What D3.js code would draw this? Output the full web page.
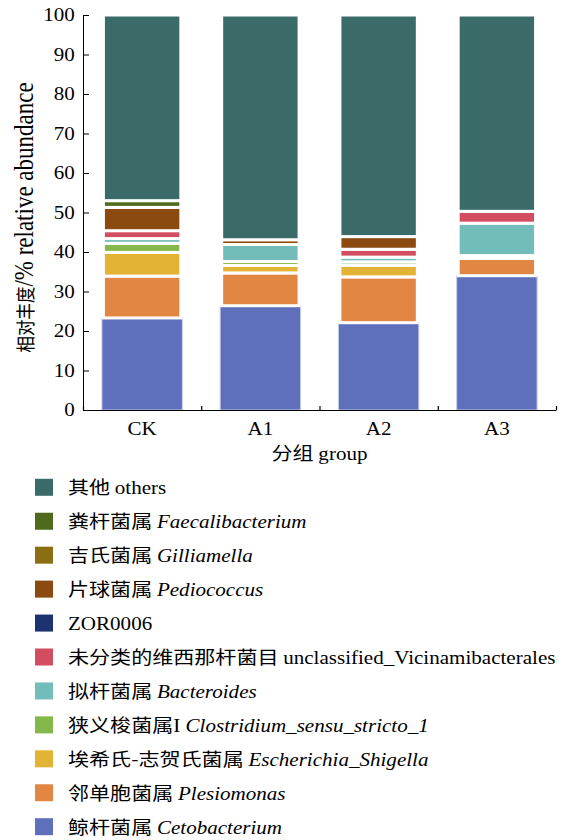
<!DOCTYPE html>
<html>
<head>
<meta charset="utf-8">
<script src="https://cdn.jsdelivr.net/npm/d3@7"></script>
<style>
  body { margin: 0; background: #fff; }
  svg { display: block; }
  .lat { font-family: "Liberation Serif", "Times New Roman", serif; }
  .cjk { font-family: "Noto Sans CJK SC", sans-serif; }
</style>
</head>
<body>
<div id="chart"></div>
<script>

// groups on the x axis
const groups = ['CK', 'A1', 'A2', 'A3'];

// genera, stacked bottom -> top
const series = ['Cetobacterium', 'Plesiomonas', 'Escherichia', 'Clostridium', 'Bacteroides',
    'Vicinamibacterales', 'ZOR0006', 'Pediococcus', 'Gilliamella', 'Faecalibacterium', 'others'];

// relative abundance (%) per group
const cetobacterium      = [23.3, 26.4, 22.1, 34.0];
const plesiomonas        = [10.6,  8.3, 11.6,  4.4];
const escherichia        = [ 6.0,  1.9,  2.9,  0.7];
const clostridium        = [ 2.3,  1.0,  0.9,  0.0];
const bacteroides        = [ 1.2,  4.3,  1.2,  8.2];
const vicinamibacterales = [ 2.0,  0.0,  2.0,  3.0];
const zor0006            = [ 0.0,  0.0,  0.0,  0.0];
const pediococcus        = [ 5.9,  1.2,  3.2,  0.0];
const gilliamella        = [ 0.0,  0.0,  0.0,  0.0];
const faecalibacterium   = [ 1.7,  0.0,  0.0,  0.0];
const others             = [47.0, 56.9, 56.1, 49.7];

const colors = ['#5e70bb', '#e28743', '#e3b335', '#85b84a', '#72bcb9',
    '#d24d5f', '#1c3370', '#8a4a10', '#8b6d14', '#4e6a1a', '#3b6b68'];

// legend texts, same order as series
const legendCn = ['鲸杆菌属', '邻单胞菌属', '埃希氏-志贺氏菌属', '狭义梭菌属', '拟杆菌属',
    '未分类的维西那杆菌目', '', '片球菌属', '吉氏菌属', '粪杆菌属', '其他'];
const legendLatin = ['Cetobacterium', 'Plesiomonas', 'Escherichia_Shigella', 'Clostridium_sensu_stricto_1', 'Bacteroides',
    'unclassified_Vicinamibacterales', 'ZOR0006', 'Pediococcus', 'Gilliamella', 'Faecalibacterium', 'others'];
const legendItalic = [true, true, true, true, true, false, false, true, true, true, false];

const yTicks = [0, 10, 20, 30, 40, 50, 60, 70, 80, 90, 100];

const columns = [cetobacterium, plesiomonas, escherichia, clostridium, bacteroides,
    vicinamibacterales, zor0006, pediococcus, gilliamella, faecalibacterium, others];

const table = groups.map(function (g, i) {
    const row = { group: g };
    series.forEach(function (s, j) { row[s] = columns[j][i]; });
    return row;
});

const W = 565, H = 840;
const margin = { top: 15, left: 83, right: 9 };
const plotBottom = 410;
const stretch = 'scale(1.17,1)';

const svg = d3.select('#chart').append('svg')
    .attr('width', W)
    .attr('height', H);

const x = d3.scaleBand()
    .domain(groups)
    .range([margin.left, W - margin.right])
    .paddingInner(0.32)
    .paddingOuter(0.16);

const y = d3.scaleLinear()
    .domain([0, 100])
    .range([plotBottom, margin.top]);

const stacked = d3.stack().keys(series)(table);
const bw = x.bandwidth();

// bars
const layer = svg.append('g').selectAll('g')
    .data(stacked)
    .join('g')
    .attr('fill', function (d, i) { return colors[i]; });

layer.selectAll('rect')
    .data(function (d) { return d.map(function (v) { v.li = d.index; return v; }).filter(function (v) { return v[1] - v[0] > 0; }); })
    .join('rect')
    .attr('x', function (d) { return x(d.data.group) + (d.li === 0 ? 0 : 1.5); })
    .attr('width', function (d) { return d.li === 0 ? bw : bw - 3; })
    .attr('y', function (d) { return y(d[1]); })
    .attr('height', function (d) { return y(d[0]) - y(d[1]); })
    .attr('stroke', function (d) { return d.li === 0 ? '#c6cbe8' : '#fff'; })
    .attr('stroke-width', function (d) { return d.li === 0 ? 1 : 3; });

// y axis
const yAxis = svg.append('g')
    .attr('transform', 'translate(' + margin.left + ',0)')
    .call(d3.axisLeft(y).tickValues(yTicks).tickSizeInner(-6).tickSizeOuter(0).tickPadding(7));
yAxis.select('.domain').attr('stroke', '#000');
yAxis.selectAll('.tick line').attr('stroke', '#000');
yAxis.selectAll('text')
    .attr('class', 'lat')
    .attr('transform', stretch)
    .style('font-size', '18px')
    .attr('fill', '#000');

// x axis line with ticks between groups
const xLine = d3.scaleLinear().domain([0, groups.length]).range(x.range());
const xAxis = svg.append('g')
    .attr('transform', 'translate(0,' + plotBottom + ')')
    .call(d3.axisBottom(xLine).ticks(groups.length).tickSizeInner(-4).tickSizeOuter(0).tickFormat(''));
xAxis.select('.domain').attr('stroke', '#000').attr('stroke-width', 1.2);
xAxis.selectAll('.tick line').attr('stroke', '#000').attr('stroke-width', 1.2);

// group labels
const xLabels = svg.append('g')
    .attr('transform', 'translate(0,' + plotBottom + ')')
    .call(d3.axisBottom(x).tickSize(0).tickPadding(12));
xLabels.select('.domain').remove();
xLabels.selectAll('text')
    .attr('class', 'lat')
    .attr('transform', stretch)
    .style('font-size', '18px')
    .attr('fill', '#000');

// axis titles
const xTitle = svg.append('text')
    .attr('transform', 'translate(' + ((x.range()[0] + x.range()[1]) / 2) + ',460) ' + stretch)
    .attr('text-anchor', 'middle')
    .style('font-size', '18px');
xTitle.append('tspan').attr('class', 'cjk').text('分组 ');
xTitle.append('tspan').attr('class', 'lat').text('group');

const yTitle = svg.append('text')
    .attr('transform', 'translate(33,217.5) rotate(-90) scale(1,1.2)')
    .attr('text-anchor', 'middle');
yTitle.append('tspan').attr('class', 'cjk').style('font-size', '16.5px').text('相对丰度');
yTitle.append('tspan').attr('class', 'lat').style('font-size', '23px').text('/% relative abundance');

// legend, top row = top of the stack
const legendOrder = d3.range(series.length).reverse();
const legend = svg.append('g').selectAll('g')
    .data(legendOrder)
    .join('g')
    .attr('transform', function (d, i) { return 'translate(0,' + (487.3 + i * 33.94) + ')'; });

legend.append('rect')
    .attr('x', 35)
    .attr('y', -8.5)
    .attr('width', 18)
    .attr('height', 17)
    .attr('fill', function (d) { return colors[d]; });

const lt = legend.append('text')
    .attr('transform', 'translate(68,7) ' + stretch)
    .style('font-size', '18px')
    .attr('fill', '#000');

lt.append('tspan')
    .attr('class', 'cjk')
    .text(function (d) { return legendCn[d] ? legendCn[d] + (d === 3 ? '' : ' ') : ''; });
lt.filter(function (d) { return d === 3; }).append('tspan')
    .attr('class', 'lat')
    .text('I ');
lt.append('tspan')
    .attr('class', 'lat')
    .style('font-style', function (d) { return legendItalic[d] ? 'italic' : 'normal'; })
    .text(function (d) { return legendLatin[d]; });

</script>
</body>
</html>
